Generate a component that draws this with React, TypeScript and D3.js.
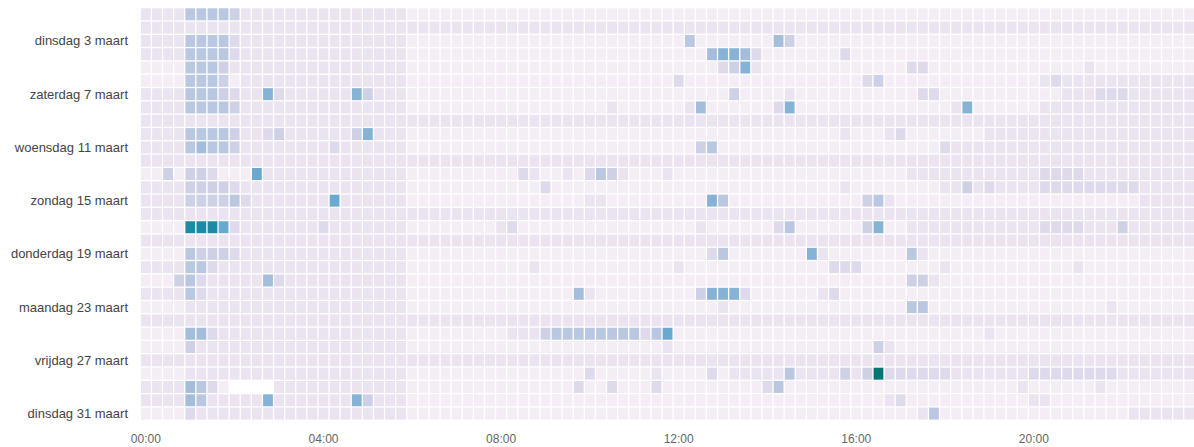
import React from "react";
import * as d3 from "d3";

// one row per day in March, 96 quarter-hour slots per row
// levels are base-36 digits, "-" = no data (DST switch)
const days = Array.from({ length: 31 }, (_, i) => i + 1);

const dayRows = [
  "222255554222222222222222 111111111111111111111111 111111111111111111111111 111111111111111111111111",
  "222222222222222222222222 222222222222222222222222 222222222222222222222222 222222222222222222222222",
  "222255553222222222222222 111111111111111111111111 151111111641111111111111 111111111111111111111111",
  "222255553222222222222222 111111111111111111111111 111677631111111311111111 111111111111111111111111",
  "111155542222222222222222 111111111111111111111111 111134721111111111111331 111111111111121111111111",
  "111155541222222222222222 111111111111111111111111 311111111111111113411111 111111111232222222222222",
  "222255543227322222274222 111111111111111111111111 111114111121111111111133 111111111112223332222222",
  "222255554222222222222222 111111111111111111211111 126111111371111111111111 127111111222222222222222",
  "222222222222222222222222 222222222222222222222222 222222222222222222222222 222222222222222222222222",
  "222255554223422222247222 111111111111111111111111 111111111111111211123111 111122222222222222222222",
  "222256554222222223222222 111111111111111111111111 114511111111111111111111 322222222222222222222222",
  "222222222222222222222222 222222222222222222222222 222222222222222222222222 222222222222222222222222",
  "114144311182222222222222 111111111132112135421112 111111111111111111111222 222222222333322222222222",
  "222244443222222222222222 111111111111311111111111 111111111111111211111111 224232222333333333222222",
  "222244445322222228222222 111111111111111122111111 111751111111111114521111 111111111111111111222222",
  "222222222222222222222222 222222222222222222222222 222222222222222222222222 222222222222222222222222",
  "1111bbb83222222232222222 111111112311111111111111 112111111351111114711222 222222222333322242222222",
  "222222222222222222222222 222222222222222222222222 222222222222222222222222 222222222222222222222222",
  "111154443222222222222222 111111111111111111111111 111351111111721111111521 111111111111111111111111",
  "222255322222222222222222 111111111112111111111111 211111111111113331111111 211111111111211111111111",
  "111453222226322222222222 111111111111111111111111 111111111111111111111442 111111111111111111111111",
  "222253222222222222222222 111111111111111621111111 114777311111123111111111 111111111111111111111111",
  "111122222222222222222222 111111111111111111111111 111121111111111111111551 111111111111111211111111",
  "222222222222222222222222 222222222222222222222222 222222222222222222222222 222222222222222222222222",
  "111166322222222222222222 111111111222455555555358 111111111111111111111111 111121111111111111111111",
  "111142222222222222222222 111111111111111111111112 111111111111111111421111 111111111111111111111111",
  "222222222222222222222222 222222222222222222222222 222222222222222222222222 222222222222222222222222",
  "111122222222222222222222 111111111111111131111121 111312222252222424d33333 322222223333333322222222",
  "22226531----222222222222 111111111111111311311131 111111113511111111111111 111111121111112111111111",
  "222265222227222222274222 111111111111111111111111 111111111111111111123111 111111112211111111111111",
  "111132222222222222222222 111111111111111111111111 111111111111111111111125 111111111111111112222222",
];

const yTickDays = [3, 7, 11, 15, 19, 23, 27, 31];
const yTickLabels = [
  "dinsdag 3 maart",
  "zaterdag 7 maart",
  "woensdag 11 maart",
  "zondag 15 maart",
  "donderdag 19 maart",
  "maandag 23 maart",
  "vrijdag 27 maart",
  "dinsdag 31 maart",
];
const xTickSlots = [0, 16, 32, 48, 64, 80];
const xTickLabels = ["00:00", "04:00", "08:00", "12:00", "16:00", "20:00"];

const width = 1194;
const height = 447;
const left = 141;
const top = 8.3;
const colStep = 11.1;
const rowStep = 13.31;
const pad = 0.12;

export default function App() {
  const grid = dayRows.map((r) =>
    r
      .replace(/ /g, "")
      .split("")
      .map((c) => (c === "-" ? null : parseInt(c, 36)))
  );
  const slots = d3.range(96);

  const x = d3
    .scaleBand<number>()
    .domain(slots)
    .range([left, left + colStep * (slots.length - pad)])
    .paddingInner(pad);
  const y = d3
    .scaleBand<number>()
    .domain(days)
    .range([top, top + rowStep * (days.length - 0.1)])
    .paddingInner(0.1);
  const color = d3.scaleSequential(d3.interpolatePuBuGn).domain([0, 16]);

  const font = "'Liberation Sans', Arial, sans-serif";

  return (
    <svg
      width={width}
      height={height}
      style={{ position: "absolute", left: 0, top: 0, display: "block", background: "#fff" }}
    >
      <g>
        {grid.map((row, di) =>
          row.map((v, si) =>
            v === null ? null : (
              <rect
                key={di + "-" + si}
                x={x(si)}
                y={y(days[di])}
                width={x.bandwidth()}
                height={y.bandwidth()}
                fill={color(v)}
              />
            )
          )
        )}
      </g>
      <g fontFamily={font} fontSize={13} fill="#444" textAnchor="end">
        {yTickDays.map((d, i) => (
          <text key={d} x={left - 13} y={(y(d) ?? 0) + y.bandwidth() / 2} dominantBaseline="central">
            {yTickLabels[i]}
          </text>
        ))}
      </g>
      <g fontFamily={font} fontSize={12} fill="#666" textAnchor="middle">
        {xTickSlots.map((s, i) => (
          <text key={s} x={(x(s) ?? 0) + x.bandwidth() / 2} y={443}>
            {xTickLabels[i]}
          </text>
        ))}
      </g>
    </svg>
  );
}
